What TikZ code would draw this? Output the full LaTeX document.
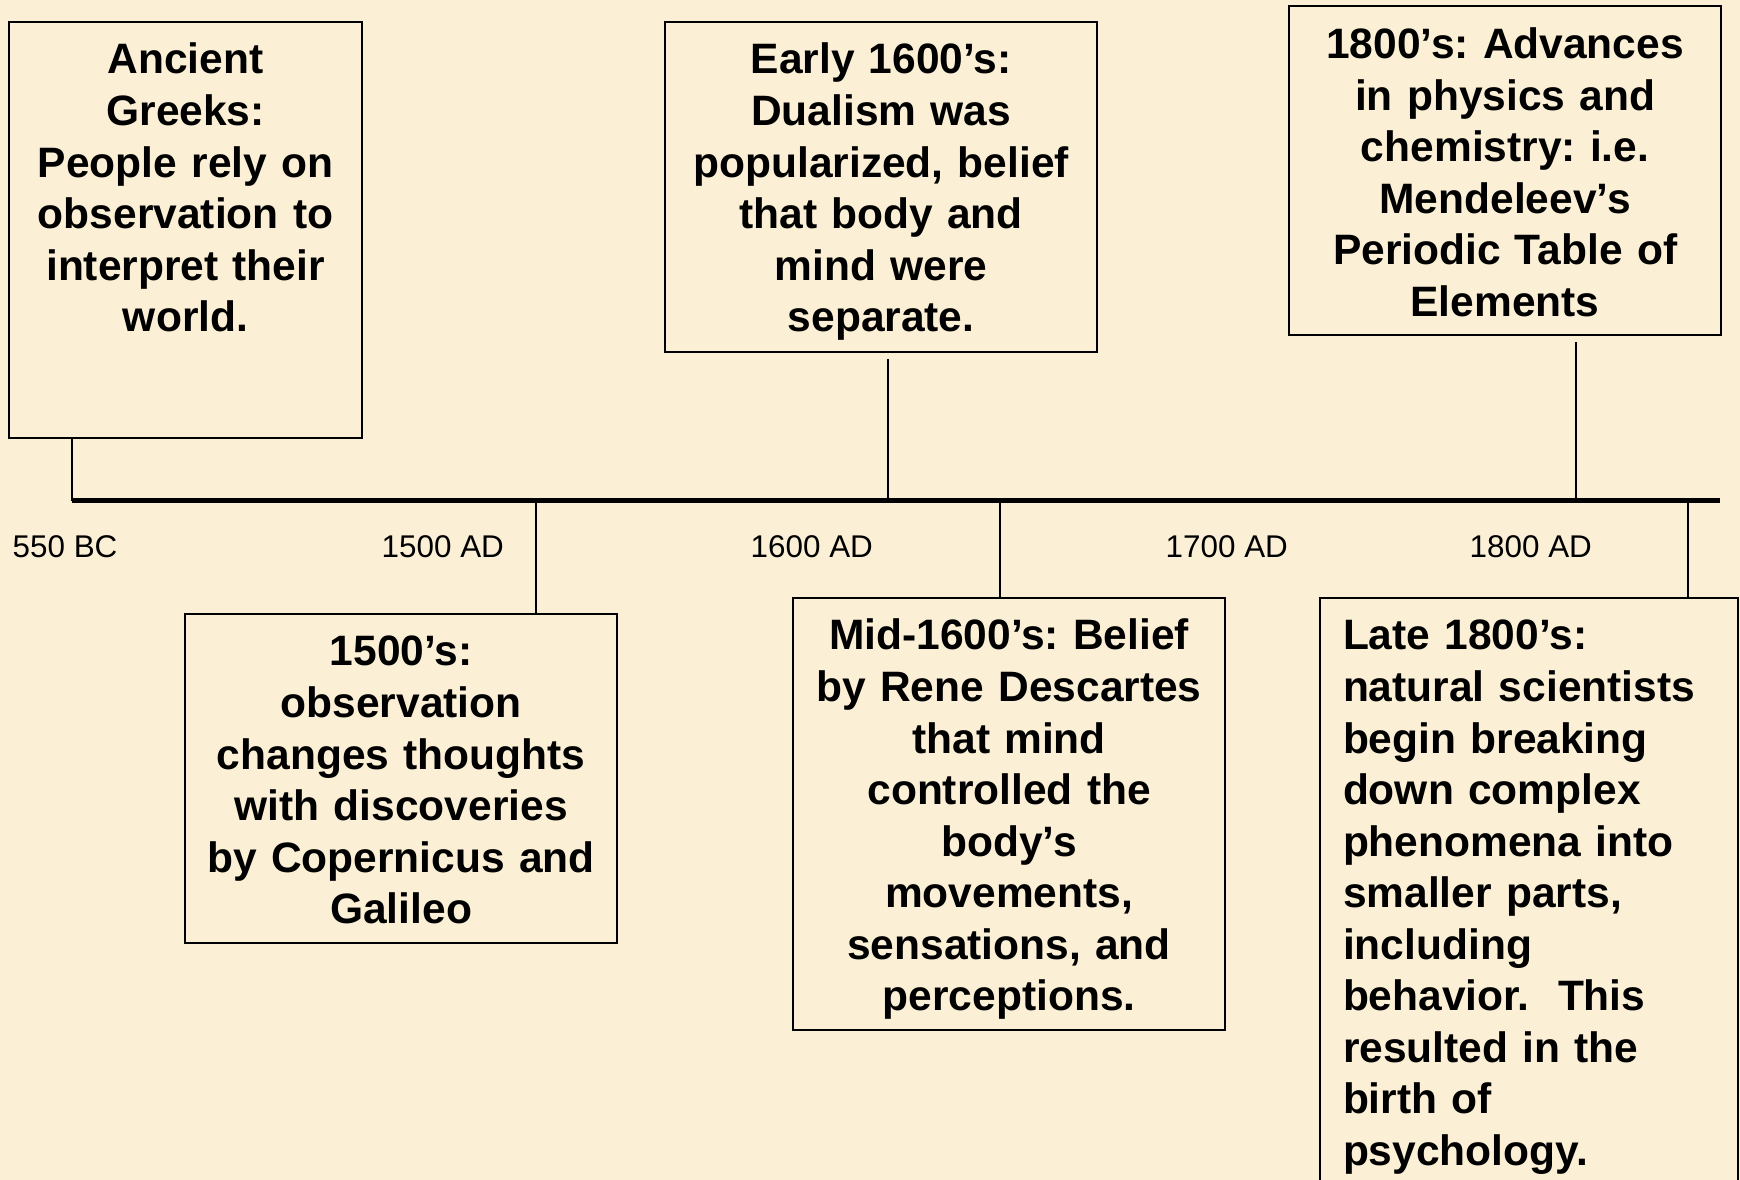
\documentclass[tikz,border=0pt]{standalone}
\usepackage{fontspec}
\setmainfont{Liberation Sans}
\definecolor{parchment}{HTML}{FBF0D6}
\definecolor{timelineink}{HTML}{000000}

\begin{document}
\begin{tikzpicture}[
  x=0.01cm,
  y=-0.01cm,
  every node/.style={timelineink},
  eventbox/.style={draw=timelineink, line width=0.55pt, anchor=north west,
               inner xsep=0.1cm, inner ysep=0.22cm, text height=0.30cm,
               align=center,
               font=\fontsize{12.09pt}{14.65pt}\selectfont\bfseries\frenchspacing},
  yearlabel/.style={anchor=base west, inner sep=0pt,
               font=\fontsize{8.93pt}{10.7pt}\selectfont},
  timeline/.style={timelineink, line width=1.42pt},
  stem/.style={timelineink, line width=0.5pt}
]
  % ---- page and background ----------------------------------------------
  \useasboundingbox (0,0) rectangle (1740,1180);
  \fill[parchment] (0,0) rectangle (1740,1180);
  \clip (0,0) rectangle (1740,1180);

  % ---- the time line --------------------------------------------------
  \coordinate (axisL) at (72,501);
  \coordinate (axisR) at (1720,501);
  \draw[timeline] (axisL) -- (axisR);

  % points where the event boxes meet the line
  \coordinate (greeksPt)  at (72,501);
  \coordinate (dualismPt) at (888,501);
  \coordinate (physicsPt) at (1576,501);
  \coordinate (copernicusPt) at (536,501);
  \coordinate (descartesPt)  at (1000,501);
  \coordinate (psychologyPt) at (1688,501);

  \node[yearlabel] (y550)  at (12,558)   {550 BC};
  \node[yearlabel] (y1500) at (381,558)  {1500 AD};
  \node[yearlabel] (y1600) at (750,558)  {1600 AD};
  \node[yearlabel] (y1700) at (1165,558) {1700 AD};
  \node[yearlabel] (y1800) at (1469,558) {1800 AD};

  % ---- events above the line ------------------------------------------
  \node[eventbox, text width=3.33cm, text depth=3.42cm] (greeks) at (8,21)
    {Ancient\\Greeks:\\People rely on\\observation to\\interpret their\\world.};
  \node[eventbox, text width=4.12cm, text depth=2.56cm] (dualism) at (664,21)
    {Early 1600’s:\\Dualism was\\popularized, belief\\that body and\\mind were\\separate.};
  \node[eventbox, text width=4.12cm, text depth=2.545cm] (physics) at (1288,5.5)
    {1800’s: Advances\\in physics and\\chemistry: i.e.\\Mendeleev’s\\Periodic Table of\\Elements};

  \draw[stem] (greeksPt) -- (greeksPt |- greeks.south);
  \draw[stem] (dualismPt) -- ([yshift=-0.06cm]dualismPt |- dualism.south);
  \draw[stem] (physicsPt) -- ([yshift=-0.06cm]physicsPt |- physics.south);

  % ---- events below the line ------------------------------------------
  \node[eventbox, text width=4.12cm, text depth=2.55cm] (copernicus) at (184,613)
    {1500’s:\\observation\\changes thoughts\\with discoveries\\by Copernicus and\\Galileo};
  \node[eventbox, text width=4.12cm, text depth=3.58cm] (descartes) at (792,597)
    {Mid-1600’s: Belief\\by Rene Descartes\\that mind\\controlled the\\body’s\\movements,\\sensations, and\\perceptions.};
  \node[eventbox, align=left, inner xsep=0.23cm, text width=3.72cm,
        text depth=5.29cm] (psychology) at (1319,597)
    {Late 1800’s:\\natural scientists\\begin breaking\\down complex\\phenomena into\\smaller parts,\\including\\behavior.\ \ This\\resulted in the\\birth of\\psychology.};

  \draw[stem] (copernicusPt) -- (copernicusPt |- copernicus.north);
  \draw[stem] (descartesPt) -- (descartesPt |- descartes.north);
  \draw[stem] (psychologyPt) -- (psychologyPt |- psychology.north);
\end{tikzpicture}
\end{document}
